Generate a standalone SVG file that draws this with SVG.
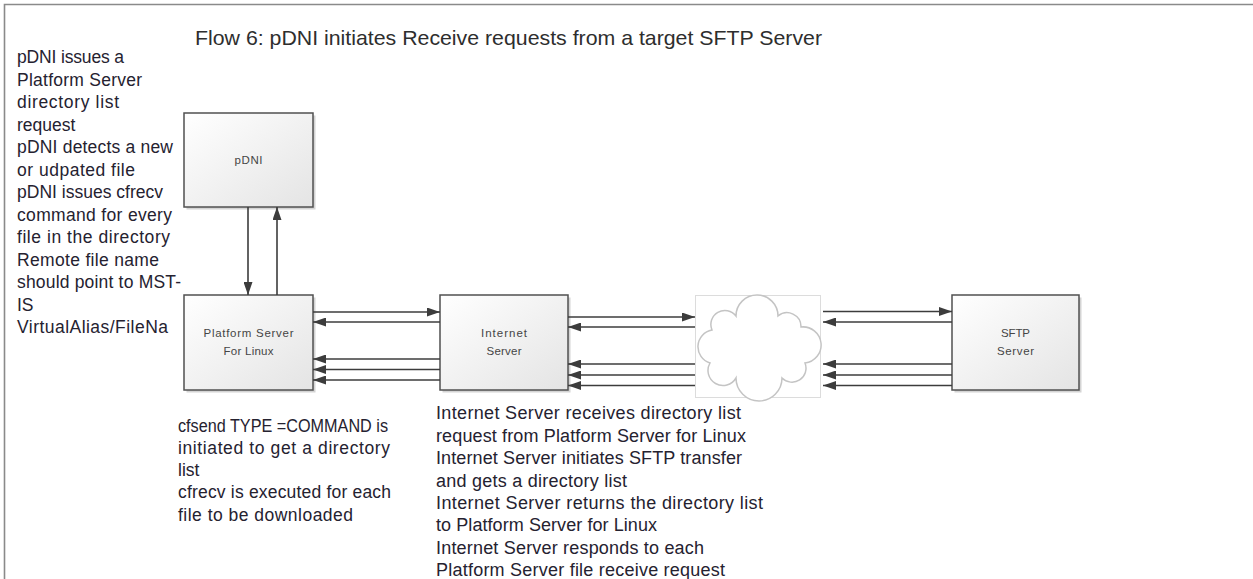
<svg xmlns="http://www.w3.org/2000/svg" width="1253" height="579" viewBox="0 0 1253 579">
<style>
.note{font-family:"Liberation Sans",Arial,sans-serif;font-size:17.5px;fill:#252230}
.noteR{font-family:"Liberation Sans",Arial,sans-serif;font-size:18px;fill:#252230}
.title{font-family:"Liberation Sans",Arial,sans-serif;font-size:21px;fill:#2e2e2e}
.lbl{font-family:"Liberation Sans",Arial,sans-serif;font-size:11.5px;fill:#454545;text-anchor:middle}
.box{fill:url(#g);stroke:#505050;stroke-width:1.5}
.shadow{fill:#b8b8b8;opacity:0.6}
.ln{stroke:#3c3c3c;stroke-width:1.6;fill:none}
</style>
<defs>
<linearGradient id="g" x1="0" y1="0" x2="1" y2="1">
<stop offset="0" stop-color="#ffffff"/>
<stop offset="1" stop-color="#e4e4e4"/>
</linearGradient>
<marker id="ah" viewBox="0 0 13 9" refX="13" refY="4.5" markerWidth="13" markerHeight="9" markerUnits="userSpaceOnUse" orient="auto">
<path d="M0,0 L13,4.5 L0,9 Z" fill="#3c3c3c"/>
</marker>
</defs>
<rect width="1253" height="579" fill="#ffffff"/>
<path d="M4.5,579 L4.5,4.5 L1253,4.5" fill="none" stroke="#8a8a8a" stroke-width="1.6"/>
<text class="title" x="195" y="45" textLength="627" lengthAdjust="spacingAndGlyphs">Flow 6: pDNI initiates Receive requests from a target SFTP Server</text>

<g id="notes-left">
<text class="note" x="17" y="63" textLength="107">pDNI issues a</text>
<text class="note" x="17" y="85.5" textLength="125">Platform Server</text>
<text class="note" x="17" y="108" textLength="102">directory list</text>
<text class="note" x="17" y="130.5">request</text>
<text class="note" x="17" y="153" textLength="156">pDNI detects a new</text>
<text class="note" x="17" y="175.5" textLength="118">or udpated file</text>
<text class="note" x="17" y="198" textLength="146">pDNI issues cfrecv</text>
<text class="note" x="17" y="220.5" textLength="155">command for every</text>
<text class="note" x="17" y="243" textLength="153">file in the directory</text>
<text class="note" x="17" y="265.5" textLength="142">Remote file name</text>
<text class="note" x="17" y="288" textLength="164">should point to MST-</text>
<text class="note" x="17" y="310.5">IS</text>
<text class="note" x="17" y="333" textLength="151">VirtualAlias/FileNa</text>
</g>

<g id="notes-platform">
<text class="note" x="178" y="432" textLength="210" lengthAdjust="spacingAndGlyphs">cfsend TYPE =COMMAND is</text>
<text class="note" x="178" y="454" textLength="212">initiated to get a directory</text>
<text class="note" x="178" y="476">list</text>
<text class="note" x="178" y="498" textLength="213">cfrecv is executed for each</text>
<text class="note" x="178" y="521" textLength="175">file to be downloaded</text>
</g>

<g id="notes-internet">
<text class="noteR" x="436" y="419" textLength="305">Internet Server receives directory list</text>
<text class="noteR" x="436" y="442" textLength="310">request from Platform Server for Linux</text>
<text class="noteR" x="436" y="464" textLength="306">Internet Server initiates SFTP transfer</text>
<text class="noteR" x="436" y="487" textLength="191">and gets a directory list</text>
<text class="noteR" x="436" y="509" textLength="327">Internet Server returns the directory list</text>
<text class="noteR" x="436" y="531" textLength="221">to Platform Server for Linux</text>
<text class="noteR" x="436" y="554" textLength="268">Internet Server responds to each</text>
<text class="noteR" x="436" y="576" textLength="289">Platform Server file receive request</text>
</g>

<g id="node-pdni">
<rect class="shadow" x="186.5" y="115.5" width="129" height="94"/>
<rect class="box" x="184" y="113" width="129" height="94"/>
<text class="lbl" x="248.5" y="164" textLength="28">pDNI</text>
</g>

<g id="node-platform">
<rect class="shadow" x="186.5" y="297.5" width="129" height="95"/>
<rect class="box" x="184" y="295" width="129" height="95"/>
<text class="lbl" x="248.5" y="337" textLength="90">Platform Server</text>
<text class="lbl" x="248.5" y="355" textLength="50">For Linux</text>
</g>

<g id="node-internet">
<rect class="shadow" x="442.5" y="297.5" width="128" height="95"/>
<rect class="box" x="440" y="295" width="128" height="95"/>
<text class="lbl" x="504" y="337" textLength="46">Internet</text>
<text class="lbl" x="504" y="355" textLength="35">Server</text>
</g>

<g id="node-cloud">
<rect x="695.5" y="295.5" width="125" height="102" fill="#ffffff" stroke="#dcdcdc" stroke-width="1"/>
<path d="M712,330 A14,14 0 0 1 736,316 A21,21 0 0 1 778,316 A14,14 0 0 1 801,327 A18,18 0 0 1 805,363 A14,14 0 0 1 782,378 A22,22 0 0 1 736,378 A15,15 0 0 1 710,363 A17,17 0 0 1 712,330 Z" fill="#ffffff" stroke="#c4c4c4" stroke-width="1.5"/>
</g>

<g id="node-sftp">
<rect class="shadow" x="954.5" y="297.5" width="127" height="95"/>
<rect class="box" x="952" y="295" width="127" height="95"/>
<text class="lbl" x="1015.5" y="337" textLength="29">SFTP</text>
<text class="lbl" x="1015.5" y="355" textLength="37">Server</text>
</g>

<g id="connectors">
<line class="ln" x1="248" y1="207" x2="248" y2="295" marker-end="url(#ah)"/>
<line class="ln" x1="277" y1="295" x2="277" y2="207" marker-end="url(#ah)"/>

<line class="ln" x1="313" y1="312" x2="440" y2="312" marker-end="url(#ah)"/>
<line class="ln" x1="440" y1="322" x2="313" y2="322" marker-end="url(#ah)"/>
<line class="ln" x1="440" y1="359" x2="313" y2="359" marker-end="url(#ah)"/>
<line class="ln" x1="440" y1="369.5" x2="313" y2="369.5" marker-end="url(#ah)"/>
<line class="ln" x1="440" y1="380" x2="313" y2="380" marker-end="url(#ah)"/>

<line class="ln" x1="568" y1="317" x2="695" y2="317" marker-end="url(#ah)"/>
<line class="ln" x1="695" y1="327" x2="568" y2="327" marker-end="url(#ah)"/>
<line class="ln" x1="695" y1="364" x2="568" y2="364" marker-end="url(#ah)"/>
<line class="ln" x1="695" y1="375" x2="568" y2="375" marker-end="url(#ah)"/>
<line class="ln" x1="695" y1="385.5" x2="568" y2="385.5" marker-end="url(#ah)"/>

<line class="ln" x1="823" y1="311.5" x2="952" y2="311.5" marker-end="url(#ah)"/>
<line class="ln" x1="952" y1="322" x2="823" y2="322" marker-end="url(#ah)"/>
<line class="ln" x1="952" y1="364" x2="823" y2="364" marker-end="url(#ah)"/>
<line class="ln" x1="952" y1="375" x2="823" y2="375" marker-end="url(#ah)"/>
<line class="ln" x1="952" y1="385.5" x2="823" y2="385.5" marker-end="url(#ah)"/>
</g>
</svg>
